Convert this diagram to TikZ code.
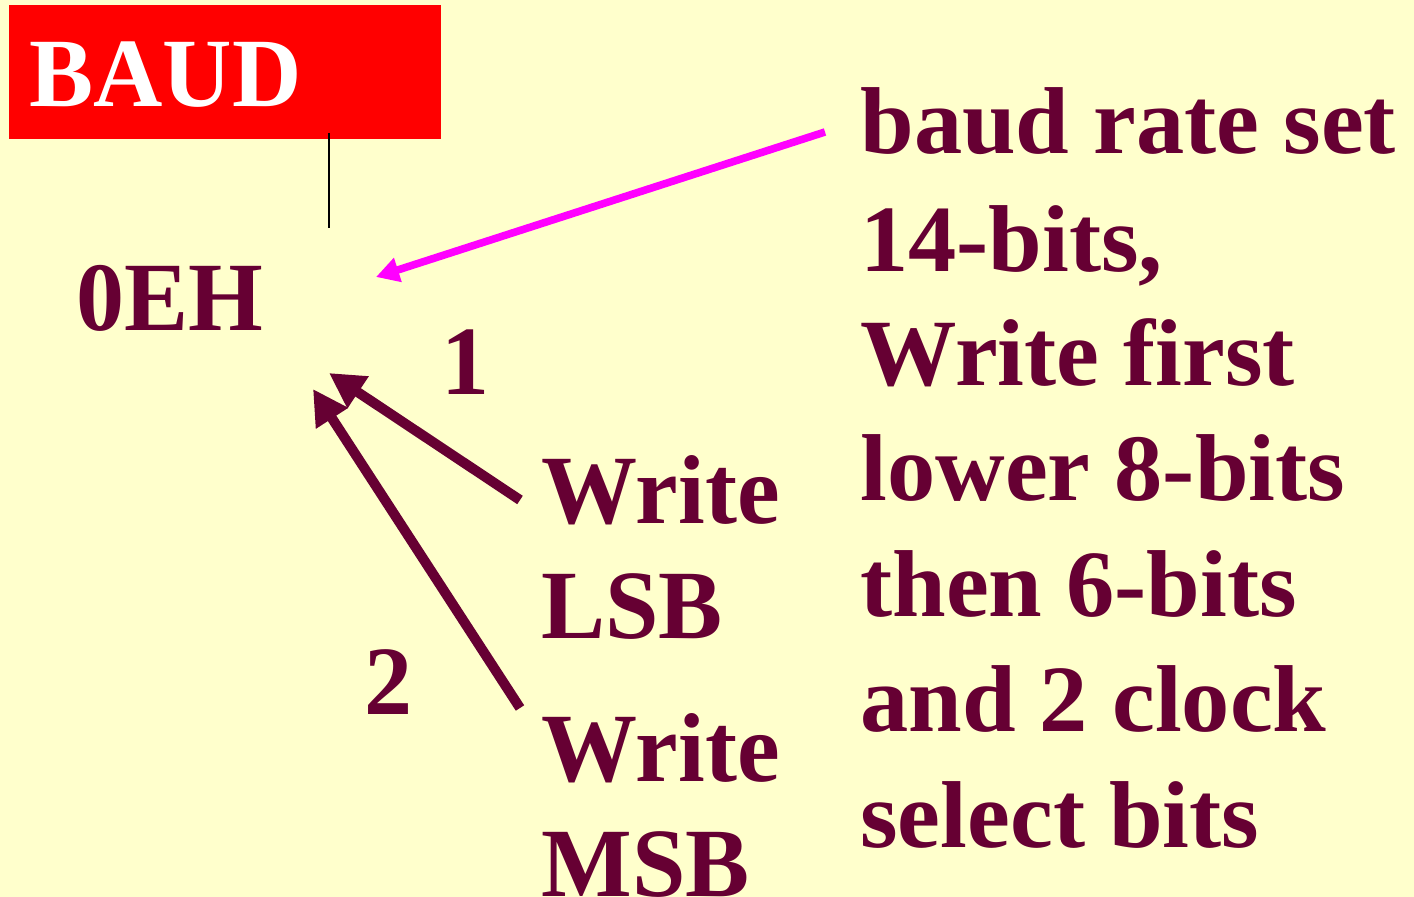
\documentclass[tikz,border=0pt]{standalone}
\usepackage{fontspec}
\usetikzlibrary{arrows.meta}
\newfontfamily\labelfont[FakeStretch=0.98]{Liberation Serif}
\newfontfamily\notefont[FakeStretch=1.015]{Liberation Serif}
\definecolor{paper}{HTML}{FFFFCC}
\definecolor{wine}{HTML}{660033}
\definecolor{pink}{HTML}{FF00FF}
\tikzset{
  lbl/.style={anchor=base west, inner sep=0pt, text=wine,
    font=\labelfont\bfseries\fontsize{49pt}{58pt}\selectfont},
  note/.style={anchor=base west, inner sep=0pt, text=wine,
    font=\notefont\bfseries\fontsize{47.5pt}{57pt}\selectfont},
  steparrow/.style={draw=wine, line width=5pt,
    -{Triangle[length=17.5pt, width=18pt]}},
  ratearrow/.style={draw=pink, line width=3.8pt,
    -{Triangle[length=11.5pt, width=12pt]}}
}
\begin{document}
\begin{tikzpicture}[x=0.5pt, y=-0.5pt]
  % page
  \fill[paper] (0,0) rectangle (1414,897);
  \useasboundingbox (0,0) rectangle (1414,897);

  % register title box
  \fill[red] (9,5) rectangle (441,139);
  \node[lbl, text=white] (baud) at (29,107) {BAUD};

  % register address
  \node[lbl] (addr) at (76,331) {0EH};

  % tick below the title box
  \coordinate (tickA) at (329,133);
  \coordinate (tickB) at (329,228);
  \draw[black, line width=0.8pt] (tickA) -- (tickB);

  % order numbers
  \node[lbl] (one) at (441,395) {1};
  \node[lbl] (two) at (364,715) {2};

  % the two writes
  \node[lbl] (w1) at (541,524) {Write};
  \node[lbl] (lsb) at (541,639) {LSB};
  \node[lbl] (w2) at (541,781) {Write};
  \node[lbl] (msb) at (541,896) {MSB};

  % explanation
  \node[note] (r1) at (860,154) {baud rate set};
  \node[note] (r2) at (860,272) {14-bits,};
  \node[note] (r3) at (860,386) {Write first};
  \node[note] (r4) at (860,501) {lower 8-bits};
  \node[note] (r5) at (860,617) {then 6-bits};
  \node[note] (r6) at (860,732) {and 2 clock};
  \node[note] (r7) at (860,847) {select bits};

  % arrows into the register
  \coordinate (rateTail) at (825,132);
  \coordinate (rateTip) at (376,277);
  \draw[ratearrow] (rateTail) -- (rateTip);

  \coordinate (lsbTail) at (520,500);
  \coordinate (lsbTip) at (329,373);
  \draw[steparrow] (lsbTail) -- (lsbTip);

  \coordinate (msbTail) at (520,708);
  \coordinate (msbTip) at (313,389);
  \draw[steparrow] (msbTail) -- (msbTip);
\end{tikzpicture}
\end{document}
